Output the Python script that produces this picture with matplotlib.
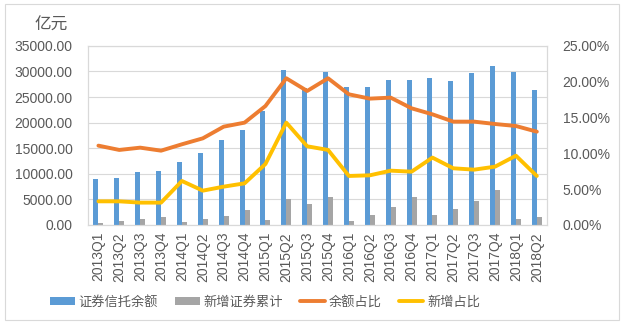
import matplotlib
matplotlib.use("Agg")
import matplotlib.pyplot as plt
import numpy as np
from matplotlib.patches import Rectangle
from matplotlib.ticker import FuncFormatter

plt.rcParams['font.family'] = ['Liberation Sans', 'Noto Sans CJK SC', 'DejaVu Sans']

# data
quarters = ['2013Q1', '2013Q2', '2013Q3', '2013Q4',
            '2014Q1', '2014Q2', '2014Q3', '2014Q4',
            '2015Q1', '2015Q2', '2015Q3', '2015Q4',
            '2016Q1', '2016Q2', '2016Q3', '2016Q4',
            '2017Q1', '2017Q2', '2017Q3', '2017Q4',
            '2018Q1', '2018Q2']
balance = [9000, 9200, 10350, 10550, 12300, 14050, 16550, 18500,
           22200, 30200, 26700, 29900, 26900, 26900, 28250, 28250,
           28650, 28050, 29650, 31000, 29900, 26300]
new_added = [400, 780, 1170, 1560, 650, 1170, 1750, 2950,
             970, 5050, 4100, 5450, 780, 1950, 3500, 5450,
             1950, 3120, 4680, 6850, 1170, 1560]
balance_ratio = [11.07, 10.47, 10.79, 10.37, 11.26, 12.09, 13.72, 14.28,
                 16.60, 20.47, 18.70, 20.47, 18.23, 17.63, 17.77, 16.28,
                 15.44, 14.42, 14.42, 14.09, 13.81, 13.02]
new_ratio = [3.30, 3.30, 3.12, 3.12, 6.14, 4.79, 5.35, 5.81,
             8.51, 14.28, 10.98, 10.47, 6.84, 6.93, 7.58, 7.44,
             9.40, 7.91, 7.72, 8.14, 9.67, 6.84]

blue = '#5B9BD5'
gray = '#A5A5A5'
orange = '#ED7D31'
yellow = '#FFC000'
txt = '#595959'
grid = '#D9D9D9'

fig = plt.figure(figsize=(6.24, 3.24), dpi=100)
ax = fig.add_axes([0.141, 0.3056, 0.736, 0.553])
ax2 = ax.twinx()

x = np.arange(len(quarters))
w = 0.24
b1 = ax.bar(x - w / 2, balance, w, color=blue, label='证券信托余额', zorder=2)
b2 = ax.bar(x + w / 2, new_added, w, color=gray, label='新增证券累计', zorder=2)
l1, = ax2.plot(x, balance_ratio, color=orange, lw=2.8, label='余额占比', solid_capstyle='round')
l2, = ax2.plot(x, new_ratio, color=yellow, lw=2.8, label='新增占比', solid_capstyle='round')

ax.set_xlim(-0.5, len(quarters) - 0.5)
ax.set_ylim(0, 35000)
ax.set_yticks(np.arange(0, 35001, 5000))
ax.yaxis.set_major_formatter(FuncFormatter(lambda v, p: f'{v:.2f}'))
ax2.set_ylim(0, 25)
ax2.set_yticks(np.arange(0, 25.1, 5))
ax2.yaxis.set_major_formatter(FuncFormatter(lambda v, p: f'{v:.2f}%'))

ax.set_xticks(x)
ax.set_xticklabels(quarters, rotation=90)
ax.grid(axis='y', color=grid, lw=0.8, zorder=0)
ax.set_axisbelow(True)

for a in (ax, ax2):
    a.tick_params(length=0, labelsize=10, colors=txt)
    for s in a.spines.values():
        s.set_color(grid)
        s.set_linewidth(0.8)
ax.tick_params(axis='y', pad=11)
ax.tick_params(axis='x', pad=5)
ax2.tick_params(axis='y', pad=11)

fig.text(0.056, 0.922, '亿元', fontsize=12, color=txt, va='center')

fig.legend([b1, b2, l1, l2], ['证券信托余额', '新增证券累计', '余额占比', '新增占比'],
           loc='center', bbox_to_anchor=(0.425, 0.068), ncol=4, frameon=False,
           fontsize=9.5, labelcolor=txt, handlelength=1.85, handleheight=0.55,
           handletextpad=0.3, columnspacing=1.3)

fig.patches.append(Rectangle((0.008, 0.012), 0.984, 0.976, transform=fig.transFigure,
                             fill=False, edgecolor=grid, lw=0.8))

fig.savefig('out.png', dpi=100)
